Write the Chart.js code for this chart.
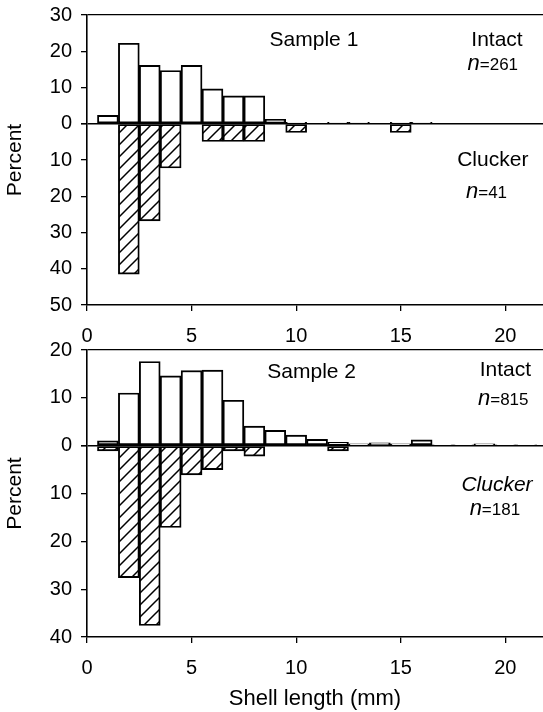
<!DOCTYPE html>
<html>
<head>
<meta charset="utf-8">
<script src="https://cdn.jsdelivr.net/npm/chart.js@4.4.0/dist/chart.umd.min.js"></script>
<style>
    html, body { margin: 0; padding: 0; background: #fff; }
    #contenedor { position: relative; width: 543px; height: 712px; overflow: hidden; }
    canvas { position: absolute; left: 0; }
</style>
</head>
<body>
<div id="contenedor">
    <canvas id="panel1" width="543" height="345" style="top:0px"></canvas>
    <canvas id="panel2" width="543" height="387" style="top:325px"></canvas>
</div>
<script>
// Clases de talla (centro de cada clase de 1 mm)
const clases = [1, 2, 3, 4, 5, 6, 7, 8, 9, 10, 11, 12, 13, 14, 15, 16, 17, 18, 19, 20, 21];

// Sample 1 (%)
const intacto1 = [2.3, 22.2, 16.1, 14.7, 16.1, 9.6, 7.7, 7.7, 1.2, 0.4, 0, 0.4, 0.4, 0, 0.4, 0.4, 0, 0, 0, 0, 0];
const clucker1 = [0, 41.5, 26.8, 12.2, 0, 4.9, 4.9, 4.9, 0, 2.4, 0, 0, 0, 0, 2.4, 0, 0, 0, 0, 0, 0];

// Sample 2 (%)
const intacto2 = [1.0, 11.0, 17.6, 14.6, 15.7, 15.8, 9.5, 4.1, 3.2, 2.2, 1.3, 0.7, 0.4, 0.6, 0.4, 1.2, 0.2, 0.2, 0.4, 0.2, 0.2];
const clucker2 = [1.1, 27.6, 37.6, 17.1, 6.1, 5.0, 1.1, 2.2, 0, 0, 0, 1.1, 0, 0, 0, 0, 0, 0, 0, 0, 0];

// Marcas de los ejes
const ticksX = [0, 5, 10, 15, 20];
const ticksY1 = [-50, -40, -30, -20, -10, 0, 10, 20, 30];
const ticksY2 = [-40, -30, -20, -10, 0, 10, 20];

const fuente = '"Liberation Sans", Arial, Helvetica, sans-serif';

// Patron rayado para las barras "Clucker"
function crearRayado() {
    const c = document.createElement('canvas');
    c.width = 12; c.height = 12;
    const g = c.getContext('2d');
    g.fillStyle = '#fff';
    g.fillRect(0, 0, 12, 12);
    g.strokeStyle = '#000';
    g.lineWidth = 1.5;
    g.beginPath();
    g.moveTo(-3, 15); g.lineTo(15, -3);
    g.moveTo(-9, 9); g.lineTo(9, -9);
    g.moveTo(3, 21); g.lineTo(21, 3);
    g.stroke();
    return g.createPattern(c, 'repeat');
}
const rayado = crearRayado();

// Textos dentro del grafico (Sample, Intact, n=...)
const pluginTextos = {
    id: 'textos',
    afterDatasetsDraw(chart, args, opts) {
        const ctx = chart.ctx;
        const sx = chart.scales.x, sy = chart.scales.y;
        ctx.save();
        ctx.fillStyle = '#000';
        ctx.textBaseline = 'alphabetic';
        (opts.items || []).forEach(t => {
            const px = sx.getPixelForValue(t.x);
            const py = sy.getPixelForValue(t.y);
            if (t.n) {
                ctx.font = 'italic 22px ' + fuente;
                const w1 = ctx.measureText('n').width;
                ctx.font = '17px ' + fuente;
                const w2 = ctx.measureText('=' + t.n).width;
                const x0 = px - (w1 + w2) / 2;
                ctx.textAlign = 'left';
                ctx.font = 'italic 22px ' + fuente;
                ctx.fillText('n', x0, py + 6);
                ctx.font = '17px ' + fuente;
                ctx.fillText('=' + t.n, x0 + w1, py + 6);
            } else {
                ctx.textAlign = 'center';
                ctx.font = (t.italic ? 'italic ' : '') + '21px ' + fuente;
                ctx.fillText(t.texto, px, py + 7.5);
            }
        });
        ctx.restore();
    }
};

function crearPanel(idCanvas, intacto, clucker, ticksY, textos, conTitulo, altoEjeX, padTop) {
    const yMin = ticksY[0], yMax = ticksY[ticksY.length - 1];
    const ctx = document.getElementById(idCanvas).getContext('2d');

    return new Chart(ctx, {
        type: 'bar',
        plugins: [pluginTextos],
        data: {
            datasets: [{
                label: 'Clucker',
                data: clases.map((c, i) => ({ x: c, y: -clucker[i] })),
                backgroundColor: rayado,
                borderColor: '#000',
                borderWidth: 1.9,
                borderSkipped: false,
                barPercentage: 1,
                categoryPercentage: 1,
                grouped: false
            }, {
                label: 'Intact',
                data: clases.map((c, i) => ({ x: c, y: intacto[i] })),
                backgroundColor: '#fff',
                borderColor: '#000',
                borderWidth: 1.9,
                borderSkipped: false,
                barPercentage: 1,
                categoryPercentage: 1,
                grouped: false
            }]
        },
        options: {
            responsive: false,
            animation: false,
            devicePixelRatio: 1,
            layout: { padding: { top: padTop, right: 0, bottom: 0, left: 0 } },
            scales: {
                x: {
                    type: 'linear',
                    min: 0,
                    max: 21.8,
                    offset: false,
                    afterBuildTicks: s => { s.ticks = ticksX.map(v => ({ value: v })); },
                    afterFit: s => { s.height = altoEjeX; },
                    ticks: { color: '#000', font: { family: fuente, size: 20 }, padding: 13, maxRotation: 0, autoSkip: false },
                    grid: { offset: false, drawOnChartArea: false, color: '#000', tickColor: '#000', tickLength: 6, lineWidth: 1.3 },
                    border: { color: '#000', width: 1.6 },
                    title: conTitulo
                        ? { display: true, text: 'Shell length (mm)', color: '#000', font: { family: fuente, size: 22 }, padding: { top: 4, bottom: 0 } }
                        : { display: false }
                },
                y: {
                    min: yMin,
                    max: yMax,
                    afterBuildTicks: s => { s.ticks = ticksY.map(v => ({ value: v })); },
                    afterFit: s => { s.width = 87; s.paddingTop = 0; s.paddingBottom = 0; },
                    ticks: { color: '#000', font: { family: fuente, size: 20 }, padding: 9, callback: v => Math.abs(v) },
                    grid: {
                        color: c => (c.tick && (c.tick.value === 0 || c.tick.value === yMax)) ? '#000' : 'rgba(0,0,0,0)',
                        lineWidth: c => (c.tick && c.tick.value === 0) ? 1.6 : 1.3,
                        tickColor: '#000',
                        tickLength: 6
                    },
                    border: { color: '#000', width: 1.6 },
                    title: { display: true, text: 'Percent', color: '#000', font: { family: fuente, size: 21 }, padding: { top: 3, bottom: 0 } }
                }
            },
            plugins: {
                legend: { display: false },
                tooltip: { enabled: false },
                textos: { items: textos }
            }
        }
    });
}

// Panel superior
crearPanel('panel1', intacto1, clucker1, ticksY1, [
    { texto: 'Sample 1', x: 10.85, y: 23.6 },
    { texto: 'Intact', x: 19.6, y: 23.6 },
    { n: '261', x: 19.4, y: 16.6 },
    { texto: 'Clucker', x: 19.4, y: -9.7 },
    { n: '41', x: 19.1, y: -18.8 }
], false, 40, 15);

// Panel inferior
crearPanel('panel2', intacto2, clucker2, ticksY2, [
    { texto: 'Sample 2', x: 10.74, y: 15.7 },
    { texto: 'Intact', x: 20.0, y: 16.2 },
    { n: '815', x: 19.9, y: 9.7 },
    { texto: 'Clucker', x: 19.6, y: -7.9, italic: true },
    { n: '181', x: 19.5, y: -13.3 }
], true, 75, 25);
</script>
</body>
</html>
